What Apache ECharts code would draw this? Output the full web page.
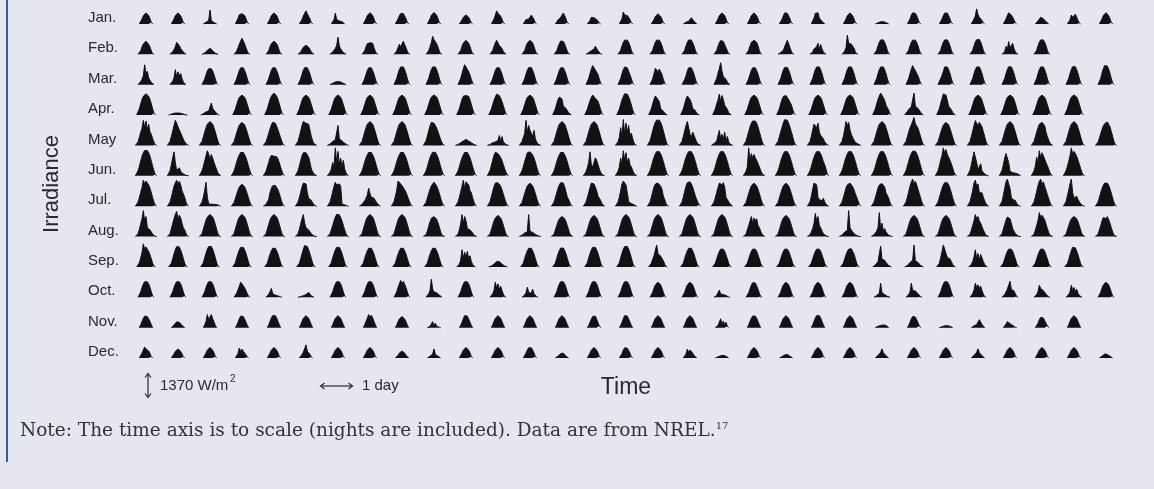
<!DOCTYPE html>
<html>
<head>
<meta charset="utf-8">
<script src="https://cdn.jsdelivr.net/npm/echarts@6.0.0/dist/echarts.min.js"></script>
<style>
html,body{margin:0;padding:0;background:#e6e6f1;}
#chart{width:1154px;height:489px;}
</style>
</head>
<body>
<div id="chart"></div>
<script>
// ---- data -------------------------------------------------------------
const months = ['Jan.','Feb.','Mar.','Apr.','May','Jun.','Jul.','Aug.','Sep.','Oct.','Nov.','Dec.'];
// hour of the first (zero) sample of each day, per month; samples are hourly
const startHour = [7,6,6,5,4,4,4,4,5,6,7,7];
const unitWm2 = 10;      // stored values are in units of 10 W/m2
const rowSpanWm2 = 1370; // scale bar: vertical distance between month rows

const jan = [
[0,6,22,37,46,50,47,38,24,7,0],[0,6,22,38,47,50,47,37,23,7,0],[0,3,8,12,15,63,14,10,6,2,0],[0,7,25,42,50,46,48,38,24,7,0],
[0,6,22,38,47,50,47,38,24,7,0],[0,6,20,36,48,59,46,34,22,6,0],[0,6,20,49,20,13,13,12,10,4,0],[0,6,23,38,47,51,48,38,23,7,0],
[0,6,22,37,47,50,47,38,24,7,0],[0,6,23,39,48,52,48,39,24,7,0],[0,5,18,30,26,41,37,30,18,5,0],[0,6,22,40,59,48,44,35,22,6,0],
[0,5,20,27,22,30,40,34,20,5,0],[0,5,18,27,30,35,49,38,22,6,0],[0,4,16,30,22,28,25,20,12,4,0],[0,6,24,54,40,42,38,30,20,6,0],
[0,5,20,34,43,46,43,34,21,6,0],[0,3,8,12,12,14,28,22,12,3,0],[0,6,22,38,47,50,47,38,23,7,0],[0,6,23,38,47,50,46,37,23,7,0],
[0,6,21,37,50,58,48,36,22,6,0],[0,6,26,48,54,50,26,20,12,4,0],[0,6,22,38,47,50,47,37,23,7,0],[0,2,5,8,10,14,10,8,6,2,0],
[0,6,22,40,50,55,48,38,22,6,0],[0,6,22,38,49,55,49,37,22,6,0],[0,5,22,36,68,42,30,24,16,5,0],[0,6,22,38,50,44,40,30,18,5,0],
[0,4,14,22,30,26,24,20,10,3,0],[0,5,18,40,30,26,44,30,16,4,0],[0,6,22,38,47,51,47,37,23,7,0]
];
const feb = [
[0,3,16,33,47,56,59,55,45,32,15,3,0],[0,3,12,22,34,54,59,40,26,18,10,2,0],[0,2,6,12,18,24,27,22,16,10,5,1,0],[0,3,14,30,46,60,72,60,46,30,14,3,0],
[0,3,16,34,48,56,59,56,48,34,16,3,0],[0,2,10,22,32,38,41,38,32,22,10,2,0],[0,2,10,18,26,40,77,38,24,16,8,2,0],[0,3,16,34,48,54,52,44,50,30,14,3,0],
[0,3,14,30,45,34,40,59,44,30,14,3,0],[0,3,16,34,52,81,66,60,48,32,14,3,0],[0,3,17,36,51,60,63,60,50,35,16,3,0],[0,3,17,36,52,63,58,40,36,26,12,3,0],
[0,3,17,36,51,60,63,60,51,35,16,3,0],[0,3,15,32,48,60,68,58,46,30,14,3,0],[0,2,8,12,16,20,24,36,28,16,8,2,0],[0,3,18,38,54,64,68,64,54,38,18,3,0],
[0,3,18,38,54,64,67,64,54,38,18,3,0],[0,3,18,38,54,65,68,64,53,37,18,3,0],[0,3,17,36,52,62,64,58,44,40,16,3,0],[0,3,18,38,54,62,63,62,54,38,17,3,0],
[0,2,8,14,18,20,50,63,48,30,14,3,0],[0,2,10,24,16,34,50,22,44,24,10,2,0],[0,3,14,30,86,50,48,46,40,28,12,2,0],[0,3,18,38,55,65,68,65,54,38,18,3,0],
[0,3,18,38,54,64,68,64,54,38,18,3,0],[0,3,18,39,55,65,69,65,55,38,18,3,0],[0,3,18,38,56,66,68,67,56,38,18,3,0],[0,2,12,36,20,58,28,24,50,26,10,2,0],
[0,3,18,38,55,65,69,65,55,39,18,3,0]
];
const mar = [
[0,4,14,24,40,90,50,60,30,22,10,3,0],[0,4,16,30,68,34,58,40,50,28,12,3,0],[0,7,25,45,62,72,77,72,62,45,25,7,0],[0,8,26,47,64,76,81,76,64,47,26,8,0],
[0,8,26,47,64,76,81,76,64,47,26,8,0],[0,8,26,47,65,77,82,76,64,47,26,8,0],[0,2,6,10,12,14,14,14,12,10,6,2,0],[0,8,26,47,64,76,81,76,64,47,26,8,0],
[0,8,28,50,68,80,86,80,68,50,28,8,0],[0,8,28,50,68,80,86,80,68,50,28,8,0],[0,8,28,50,72,90,80,70,58,44,24,7,0],[0,8,26,47,64,76,81,76,64,47,26,8,0],
[0,8,26,48,65,77,82,77,65,48,26,8,0],[0,8,26,47,64,76,81,76,64,47,26,8,0],[0,8,28,50,70,86,80,66,56,46,24,7,0],[0,8,28,50,68,80,86,76,60,52,28,8,0],
[0,7,26,50,74,66,58,70,64,46,24,7,0],[0,8,24,40,62,76,81,76,64,47,26,8,0],[0,8,28,52,72,99,60,36,32,24,12,4,0],[0,8,26,47,64,76,81,76,64,47,26,8,0],
[0,8,27,48,66,78,83,78,66,48,27,8,0],[0,8,28,50,68,80,86,80,68,50,28,8,0],[0,8,28,50,68,80,86,80,68,50,28,8,0],[0,8,28,50,68,80,86,80,68,50,28,8,0],
[0,8,28,50,70,86,74,64,50,40,22,6,0],[0,8,28,42,60,80,86,80,68,50,28,8,0],[0,8,28,50,68,80,86,80,68,50,28,8,0],[0,8,28,50,68,81,86,80,68,50,28,8,0],
[0,8,28,50,68,80,86,80,68,50,28,8,0],[0,8,28,50,69,81,87,81,68,50,28,8,0],[0,8,28,52,72,86,95,84,70,50,28,8,0]
];
const apr = [
[0,8,28,50,70,85,93,96,93,85,70,50,28,8,0],[0,2,4,6,8,9,9,9,9,8,6,4,2,1,0],[0,2,6,10,14,18,18,20,54,30,24,14,6,2,0],[0,8,26,47,66,80,88,90,88,80,66,47,26,8,0],
[0,8,28,50,70,85,93,99,90,85,70,50,28,8,0],[0,8,26,47,66,80,88,90,88,80,66,47,26,8,0],[0,8,26,47,66,80,88,91,88,80,66,47,26,8,0],[0,8,26,47,66,80,88,90,88,80,66,47,26,8,0],
[0,8,26,47,66,80,88,90,88,80,66,47,26,8,0],[0,8,27,48,67,81,89,91,89,81,67,48,27,8,0],[0,8,28,50,70,85,90,88,90,84,68,48,26,8,0],[0,8,26,46,66,82,94,96,88,76,60,42,22,6,0],
[0,8,26,47,66,80,88,90,88,80,66,47,26,8,0],[0,8,28,50,70,81,76,72,40,36,30,20,10,3,0],[0,8,26,46,64,80,90,95,76,78,62,44,24,7,0],[0,8,26,48,68,84,96,99,94,82,66,46,24,7,0],
[0,8,28,50,70,86,84,70,60,28,30,18,8,2,0],[0,8,28,50,72,86,80,70,56,30,26,20,8,2,0],[0,8,28,50,68,95,60,88,70,44,40,26,10,3,0],[0,8,26,47,66,80,88,90,88,80,66,47,26,8,0],
[0,8,28,50,70,84,90,88,80,70,58,46,26,8,0],[0,8,26,47,66,80,88,90,88,80,66,47,26,8,0],[0,8,27,48,67,81,89,91,89,81,67,48,27,8,0],[0,8,28,50,70,86,99,92,78,66,44,38,22,6,0],
[0,6,16,26,34,38,40,99,40,36,30,22,12,4,0],[0,8,28,52,74,95,94,90,86,40,34,24,12,3,0],[0,8,26,47,66,80,88,90,88,80,66,47,26,8,0],[0,8,26,47,66,80,88,90,88,82,70,52,30,8,0],
[0,8,26,47,66,80,88,90,88,80,66,47,26,8,0],[0,8,27,48,67,81,89,91,89,81,67,48,27,8,0]
];
const may = [
[0,3,16,36,58,78,113,80,110,70,96,60,50,30,14,3,0],[0,3,18,40,64,90,113,100,84,70,56,42,28,16,8,2,0],[0,3,18,38,60,80,96,105,108,105,96,80,60,38,18,3,0],
[0,3,17,36,57,76,92,100,104,100,92,76,57,36,17,3,0],[0,3,16,34,54,74,92,104,108,100,86,70,52,34,16,3,0],[0,3,18,40,64,90,108,104,100,98,96,94,40,20,8,2,0],
[0,2,6,12,18,22,26,30,90,30,24,20,16,10,6,2,0],[0,3,18,38,60,80,96,105,108,105,96,80,60,38,18,3,0],[0,3,18,38,60,80,96,105,108,105,96,80,60,38,18,3,0],
[0,3,20,42,66,88,104,108,100,90,78,62,44,26,12,2,0],[0,1,4,8,12,16,20,24,27,24,20,16,12,8,4,1,0],[0,1,4,8,12,14,16,20,22,45,18,40,16,10,4,1,0],
[0,3,18,36,54,113,60,90,68,70,40,68,30,16,6,1,0],[0,3,18,38,60,80,96,105,108,105,96,80,60,38,18,3,0],[0,3,18,38,60,80,96,105,108,105,96,80,60,38,18,3,0],
[0,3,16,36,80,40,117,50,100,60,90,40,56,30,12,2,0],[0,3,20,42,66,88,104,114,117,114,104,88,66,42,20,3,0],[0,3,18,40,66,90,108,80,50,36,60,46,30,16,6,1,0],
[0,2,8,14,20,24,68,30,50,26,60,20,40,16,6,1,0],[0,3,19,40,62,83,100,110,113,110,100,83,62,40,19,3,0],[0,3,18,38,60,82,102,116,122,114,100,82,62,40,18,3,0],
[0,3,18,40,70,96,104,80,100,60,45,40,30,16,8,2,0],[0,3,18,40,70,108,90,104,70,50,36,24,14,10,6,2,0],[0,3,18,38,60,80,96,105,108,105,96,80,60,38,18,3,0],
[0,3,18,38,60,80,92,99,126,98,90,78,58,38,18,3,0],[0,3,17,36,57,76,92,100,104,100,92,76,57,36,17,3,0],[0,3,18,40,64,90,112,100,90,104,110,84,62,40,18,3,0],
[0,3,18,38,60,80,96,105,108,105,96,80,60,38,18,3,0],[0,3,18,38,60,80,96,104,104,100,90,60,40,24,10,2,0],[0,3,18,38,60,80,96,105,108,105,96,80,60,38,18,3,0],
[0,2,14,32,52,72,88,98,104,106,98,84,62,40,18,3,0]
];
const jun = [
[0,6,22,42,66,88,104,114,117,114,104,88,66,42,22,6,0],[0,6,22,50,80,108,60,24,20,36,20,14,8,4,2,1,0],[0,6,22,42,66,90,113,100,70,96,80,60,44,28,12,3,0],
[0,6,21,40,62,81,95,105,108,105,95,81,62,40,21,6,0],[0,5,20,40,60,80,92,99,88,96,86,76,58,38,20,5,0],[0,6,22,44,68,90,104,108,104,96,84,60,30,18,8,2,0],
[0,4,16,30,60,40,126,60,110,50,80,40,70,30,14,3,0],[0,6,21,40,62,81,95,105,108,105,95,81,62,40,21,6,0],[0,6,21,40,62,81,95,105,108,105,95,81,62,40,21,6,0],
[0,6,21,40,62,82,96,106,109,106,96,82,62,40,21,6,0],[0,6,21,40,62,81,95,105,108,105,95,81,62,40,21,6,0],[0,6,24,46,70,92,106,108,100,92,82,68,50,32,16,4,0],
[0,6,22,42,64,84,104,96,108,100,94,80,62,40,20,5,0],[0,6,21,40,62,81,95,105,108,105,95,81,62,40,21,6,0],[0,4,18,36,60,108,50,40,60,81,70,50,30,16,6,1,0],
[0,5,20,40,80,50,113,70,104,60,80,50,40,24,10,2,0],[0,6,22,42,64,84,99,109,113,109,99,84,64,42,22,6,0],[0,6,22,42,64,84,99,109,113,109,99,84,64,42,22,6,0],
[0,6,22,42,64,84,99,109,113,109,99,84,64,42,22,6,0],[0,5,20,40,126,70,100,80,96,80,70,56,40,24,10,2,0],[0,6,22,42,64,84,99,109,113,109,99,84,64,42,22,6,0],
[0,6,22,42,64,84,99,109,113,109,99,84,64,50,30,8,0],[0,6,22,42,64,84,99,109,113,109,99,84,64,42,22,6,0],[0,6,22,42,64,84,99,109,113,109,99,84,64,42,22,6,0],
[0,6,22,43,65,86,101,111,115,111,101,86,65,43,22,6,0],[0,6,22,44,70,92,126,100,118,96,104,70,54,36,16,4,0],[0,6,24,50,80,108,117,60,28,24,54,22,14,8,4,1,0],
[0,6,24,50,80,100,108,60,20,14,14,13,12,10,8,4,0],[0,6,22,44,84,60,113,80,104,90,96,60,46,30,14,3,0],[0,6,22,42,64,90,126,96,110,100,88,70,52,32,14,3,0]
];
const jul = [
[0,4,18,38,62,84,117,100,113,106,96,80,60,38,18,4,0],[0,4,18,40,64,90,106,117,100,112,96,70,64,40,18,4,0],[0,4,18,40,70,108,40,10,10,9,9,8,8,7,6,3,0],
[0,3,16,34,54,72,87,96,99,96,87,72,54,34,16,3,0],[0,2,8,16,30,60,80,92,99,94,90,74,56,36,16,3,0],[0,4,18,38,62,86,104,113,100,60,36,40,26,14,6,1,0],
[0,4,18,40,64,90,108,96,104,100,90,10,8,6,4,1,0],[0,2,8,16,24,36,50,81,56,40,44,36,26,16,8,2,0],[0,4,20,44,70,113,106,100,92,84,74,62,46,30,14,3,0],
[0,4,17,36,57,76,91,100,108,100,91,76,57,36,17,4,0],[0,4,18,40,64,90,117,80,110,104,96,70,60,38,18,4,0],[0,4,20,42,66,88,104,108,106,100,90,74,54,34,16,3,0],
[0,4,17,36,57,76,91,100,104,100,91,76,57,36,17,4,0],[0,4,18,38,60,80,96,106,108,104,88,96,40,30,14,3,0],[0,4,18,38,60,84,104,113,100,86,70,45,46,26,10,2,0],
[0,4,18,40,70,100,113,104,96,88,20,14,12,10,6,2,0],[0,4,18,40,64,86,100,104,104,100,90,76,45,30,12,2,0],[0,4,18,40,66,90,106,113,110,100,86,66,46,30,16,6,0],
[0,4,18,38,62,84,104,113,96,106,86,40,30,20,10,2,0],[0,4,17,36,57,76,91,100,104,100,91,76,57,36,17,4,0],[0,4,17,36,57,76,91,100,104,100,91,76,57,36,17,4,0],
[0,4,20,44,76,104,113,96,40,30,32,24,36,20,8,2,0],[0,4,18,38,60,82,96,104,104,98,88,74,56,40,24,8,0],[0,4,18,38,60,82,96,104,102,96,86,60,56,36,16,3,0],
[0,4,18,40,64,90,110,122,100,112,96,76,56,36,16,3,0],[0,4,18,38,60,80,96,106,112,106,96,80,60,38,18,4,0],[0,4,20,44,70,104,117,90,100,60,58,60,40,24,10,2,0],
[0,4,20,48,80,110,122,100,80,40,30,36,26,12,4,1,0],[0,4,18,40,66,92,112,122,96,110,90,72,52,34,16,3,0],[0,4,20,44,72,100,122,60,36,40,45,30,20,10,4,1,0],
[0,4,18,38,60,80,94,104,96,104,94,78,58,36,16,3,0]
];
const aug = [
[0,1,12,32,56,80,117,70,90,40,36,30,20,10,4,1,0],[0,1,12,34,58,80,100,113,80,96,84,60,40,30,14,2,0],[0,1,12,32,54,74,88,96,99,96,88,74,54,32,12,1,0],
[0,1,12,32,54,74,88,96,99,96,88,74,54,32,12,1,0],[0,1,12,32,54,74,88,96,99,96,88,74,54,32,12,1,0],[0,1,12,32,56,80,99,60,40,36,30,24,12,6,2,1,0],
[0,1,12,30,50,70,88,100,104,98,86,70,50,30,12,1,0],[0,1,12,32,54,74,88,96,99,96,88,74,54,32,12,1,0],[0,1,12,32,54,74,88,96,99,96,88,74,54,32,12,1,0],
[0,1,8,24,46,66,82,88,90,86,78,62,42,20,6,1,0],[0,1,10,30,56,99,60,90,70,36,34,30,28,16,6,1,0],[0,1,11,30,51,70,84,92,95,92,84,70,51,30,11,1,0],
[0,1,6,12,16,20,22,99,24,20,18,14,10,6,3,1,0],[0,1,10,29,49,67,80,88,90,88,80,67,49,29,10,1,0],[0,1,11,30,51,70,84,92,95,92,84,70,51,30,11,1,0],
[0,1,12,32,54,74,88,96,99,96,88,74,54,32,12,1,0],[0,1,12,32,54,74,88,96,99,96,88,74,54,32,12,1,0],[0,1,12,32,54,74,88,96,99,96,88,74,54,32,12,1,0],
[0,1,12,32,54,74,88,96,99,96,88,74,54,32,12,1,0],[0,1,10,30,50,70,90,60,84,70,80,50,40,24,10,1,0],[0,1,11,30,51,70,84,92,95,92,84,70,51,30,11,1,0],
[0,1,8,20,36,60,104,70,90,50,40,24,14,8,3,1,0],[0,1,6,14,20,24,28,117,40,30,20,12,8,4,2,1,0],[0,1,8,16,24,40,108,30,60,24,36,20,12,6,2,1,0],
[0,1,11,30,51,70,84,92,95,92,84,70,51,30,11,1,0],[0,1,11,30,51,70,84,92,95,92,84,70,51,30,11,1,0],[0,1,10,28,50,70,99,80,90,70,60,44,30,16,6,1,0],
[0,1,12,32,54,74,88,90,80,60,36,24,14,6,2,1,0],[0,1,10,28,50,72,108,86,96,90,76,56,36,18,6,1,0],[0,1,10,29,49,67,80,88,90,88,80,67,49,29,10,1,0],
[0,1,10,28,48,70,86,95,80,90,76,60,40,20,6,1,0]
];
const sep = [
[0,3,18,40,64,104,80,90,84,70,54,36,16,3,0],[0,3,16,36,58,78,92,99,90,76,58,38,16,3,0],[0,3,18,41,62,80,92,99,92,80,62,41,18,3,0],
[0,3,18,40,60,77,88,94,88,77,60,40,18,3,0],[0,3,17,38,57,73,84,90,84,73,57,38,17,3,0],[0,3,16,36,58,80,96,104,92,76,58,38,16,3,0],
[0,3,18,40,60,77,88,94,88,77,60,40,18,3,0],[0,3,17,38,57,73,84,90,84,73,57,38,17,3,0],[0,3,17,38,57,73,84,90,84,73,57,38,17,3,0],
[0,3,17,38,57,73,84,90,84,73,57,38,17,3,0],[0,2,12,30,77,40,66,44,70,36,50,24,10,2,0],[0,1,4,8,12,18,24,27,24,18,12,8,4,1,0],
[0,3,17,38,57,73,84,90,84,73,57,38,17,3,0],[0,3,17,38,58,74,85,91,85,74,58,38,17,3,0],[0,3,18,40,60,77,88,94,88,77,60,40,18,3,0],
[0,3,18,41,62,80,92,99,92,80,62,41,18,3,0],[0,3,16,34,50,56,99,60,54,48,40,28,12,2,0],[0,3,17,38,57,73,84,90,84,73,57,38,17,3,0],
[0,3,16,36,54,70,80,86,80,70,54,36,16,3,0],[0,3,16,36,54,70,80,86,80,70,54,36,16,3,0],[0,3,16,36,54,70,80,86,80,70,54,36,16,3,0],
[0,3,16,36,54,70,80,86,80,70,54,36,16,3,0],[0,3,16,36,54,70,80,86,82,74,58,38,16,3,0],[0,2,8,16,24,30,94,34,40,30,20,12,6,1,0],
[0,2,6,12,20,26,30,99,28,24,20,14,6,1,0],[0,3,16,40,70,99,80,60,42,40,36,24,10,2,0],[0,2,10,24,44,77,36,60,30,56,40,24,10,2,0],
[0,3,16,36,54,70,80,86,80,70,54,36,16,3,0],[0,3,16,36,54,70,80,86,80,70,54,36,16,3,0],[0,3,14,32,54,74,88,94,86,72,54,34,14,2,0]
];
const oct = [
[0,6,24,44,60,70,74,70,60,44,24,6,0],[0,6,24,44,60,70,74,70,60,44,24,6,0],[0,6,24,44,60,70,74,70,60,44,24,6,0],[0,5,18,34,50,68,60,52,42,30,16,4,0],
[0,4,14,24,40,16,12,10,8,6,4,2,0],[0,1,3,5,7,9,12,16,22,14,6,2,0],[0,6,24,44,60,70,74,70,60,44,24,6,0],[0,6,24,44,60,70,74,70,60,44,24,6,0],
[0,6,24,44,60,76,60,72,58,44,24,6,0],[0,4,16,30,81,36,24,22,20,16,10,3,0],[0,6,24,44,60,70,74,70,60,44,24,6,0],[0,4,16,30,68,40,60,36,50,30,14,3,0],
[0,3,10,20,45,22,30,18,36,16,8,2,0],[0,6,24,44,60,70,74,70,60,44,24,6,0],[0,6,24,44,60,70,74,70,60,44,24,6,0],[0,6,24,44,60,70,74,70,60,44,24,6,0],
[0,5,22,41,56,65,68,65,56,41,22,5,0],[0,5,22,41,56,65,68,65,56,41,22,5,0],[0,2,8,16,32,14,22,12,10,8,5,1,0],[0,5,20,38,54,66,72,64,52,36,18,4,0],
[0,5,22,41,56,65,68,65,56,41,22,5,0],[0,5,22,41,56,65,68,65,56,41,22,5,0],[0,5,22,41,56,65,68,65,56,41,22,5,0],[0,2,8,14,18,63,20,16,12,8,4,1,0],
[0,3,12,24,63,30,26,28,24,16,8,2,0],[0,6,24,44,60,70,74,70,60,44,24,6,0],[0,4,16,32,63,44,56,40,50,30,14,3,0],[0,3,12,24,36,40,72,36,34,28,16,3,0],
[0,3,12,26,54,40,36,30,24,14,6,1,0],[0,3,12,24,54,30,44,26,36,18,8,2,0],[0,5,22,41,56,65,68,65,56,41,22,5,0]
];
const nov = [
[0,13,28,42,52,56,50,42,28,12,0],[0,6,12,18,26,32,24,16,10,4,0],[0,12,28,59,36,40,59,40,26,10,0],[0,10,24,40,52,59,50,38,24,10,0],
[0,12,28,44,54,59,54,44,28,12,0],[0,12,28,42,51,54,51,42,28,12,0],[0,12,28,42,51,54,51,42,28,12,0],[0,12,28,42,59,46,56,44,28,12,0],
[0,11,26,39,47,50,47,39,26,11,0],[0,3,6,10,27,8,20,6,4,2,0],[0,10,24,40,54,63,52,38,24,10,0],[0,12,28,42,51,54,51,42,28,12,0],
[0,12,28,42,51,54,51,42,28,12,0],[0,12,28,42,51,54,51,42,28,12,0],[0,10,24,38,50,59,52,38,22,8,0],[0,10,24,40,54,63,52,38,24,10,0],
[0,12,28,42,51,54,51,42,28,12,0],[0,12,28,42,51,54,51,42,28,12,0],[0,4,10,16,40,14,30,12,24,6,0],[0,12,28,42,52,56,52,42,28,12,0],
[0,12,28,42,51,54,51,42,28,12,0],[0,12,28,44,54,58,54,44,28,12,0],[0,12,28,42,51,54,51,42,28,12,0],[0,3,6,8,10,12,12,12,10,6,0],
[0,10,24,40,50,54,48,36,22,8,0],[0,2,4,6,8,9,9,8,6,3,0],[0,3,8,12,14,20,36,28,14,5,0],[0,6,16,27,22,18,14,10,6,2,0],
[0,8,20,36,46,50,44,32,20,8,0],[0,12,28,42,51,54,51,42,28,12,0]
];
const dec = [
[0,8,22,36,50,40,40,32,20,6,0],[0,6,18,30,38,41,38,30,18,6,0],[0,8,22,36,44,47,44,36,22,7,0],[0,6,20,45,28,40,30,24,14,4,0],
[0,8,22,36,44,47,44,36,22,7,0],[0,5,16,26,34,59,30,26,16,5,0],[0,8,22,36,44,47,44,36,22,7,0],[0,8,22,36,44,47,44,36,22,7,0],
[0,4,12,22,28,32,28,22,12,4,0],[0,3,8,14,18,41,16,12,8,3,0],[0,8,22,36,44,47,44,36,22,7,0],[0,8,22,36,44,47,44,36,22,7,0],
[0,8,22,36,46,50,46,36,22,7,0],[0,3,8,14,20,27,22,14,8,3,0],[0,8,22,36,44,47,44,36,22,7,0],[0,7,20,36,46,52,44,34,20,6,0],
[0,8,22,36,44,47,44,36,22,7,0],[0,6,18,40,26,36,28,22,12,4,0],[0,2,5,8,10,12,12,10,8,4,0],[0,8,22,36,44,47,44,36,22,7,0],
[0,2,6,10,14,18,16,12,8,3,0],[0,8,22,36,44,47,44,36,22,7,0],[0,8,22,36,44,47,44,36,22,7,0],[0,4,12,20,26,41,24,18,10,3,0],
[0,8,22,36,44,47,44,36,22,7,0],[0,8,22,36,44,47,44,36,22,7,0],[0,4,12,20,26,41,24,18,10,3,0],[0,8,22,36,44,47,44,36,22,7,0],
[0,8,22,36,44,47,44,36,22,7,0],[0,8,22,36,44,47,44,36,22,7,0],[0,3,8,14,18,20,16,12,8,3,0]
];
const monthData = [jan,feb,mar,apr,may,jun,jul,aug,sep,oct,nov,dec];

// ---- chart ------------------------------------------------------------
const INK = '#121212';
const TXT = '#2a2a2a';
const yMax = 15970;

const series = monthData.map((days, m) => {
  const base = (11 - m) * rowSpanWm2;
  const pts = [];
  days.forEach((vals, d) => {
    vals.forEach((v, h) => {
      pts.push([d + (startHour[m] + h) / 24, base + v * unitWm2]);
    });
    pts.push([d + 0.99, '-']); // night: break the path
  });
  return {
    type: 'line', name: months[m], data: pts, showSymbol: false, symbol: 'none',
    silent: true, animation: false, smooth: false, connectNulls: false,
    lineStyle: { width: 1, color: INK },
    itemStyle: { color: INK },
    areaStyle: { color: INK, opacity: 1, origin: base }
  };
});

const chart = echarts.init(document.getElementById('chart'), null, { renderer: 'canvas' });
chart.setOption({
  backgroundColor: '#e6e6f1',
  animation: false,
  grid: { left: 130, right: 32, top: 4, bottom: 131, containLabel: false },
  xAxis: { type: 'value', min: 0, max: 31, show: false },
  yAxis: {
    type: 'value', min: 0, max: yMax, interval: rowSpanWm2,
    axisLine: { show: false }, axisTick: { show: false }, splitLine: { show: false },
    axisLabel: {
      show: true, align: 'left', margin: 42, verticalAlign: 'bottom', lineHeight: 12,
      fontFamily: 'Liberation Sans, Arial, sans-serif', fontSize: 15, color: TXT,
      formatter: function (v) {
        const k = Math.round(v / rowSpanWm2);
        if (Math.abs(v - k * rowSpanWm2) > 1 || k < 0 || k > 11) return '';
        return months[11 - k];
      }
    }
  },
  series: series,
  graphic: [
    { type: 'rect', left: 6, top: 0, shape: { width: 2, height: 462 }, style: { fill: '#2f5ea8' } },
    { type: 'text', x: 52, y: 184, rotation: Math.PI / 2,
      style: { text: 'Irradiance', align: 'center', verticalAlign: 'middle', fill: TXT,
               font: '22px "Liberation Sans", Arial, sans-serif' } },
    // vertical scale arrow (1370 W/m2)
    { type: 'polyline', shape: { points: [[148, 374], [148, 397]] }, style: { stroke: TXT, lineWidth: 1.2, fill: null } },
    { type: 'polyline', shape: { points: [[145, 377.5], [148, 373.5], [151, 377.5]] }, style: { stroke: TXT, lineWidth: 1.2, fill: null } },
    { type: 'polyline', shape: { points: [[145, 393.5], [148, 397.5], [151, 393.5]] }, style: { stroke: TXT, lineWidth: 1.2, fill: null } },
    { type: 'text', x: 160, y: 386, style: { text: '1370 W/m', align: 'left', verticalAlign: 'middle', fill: TXT,
      font: '15px "Liberation Sans", Arial, sans-serif' } },
    { type: 'text', x: 230, y: 379, style: { text: '2', align: 'left', verticalAlign: 'middle', fill: TXT,
      font: '10px "Liberation Sans", Arial, sans-serif' } },
    // horizontal scale arrow (1 day)
    { type: 'polyline', shape: { points: [[321, 386], [352, 386]] }, style: { stroke: TXT, lineWidth: 1.2, fill: null } },
    { type: 'polyline', shape: { points: [[324.5, 383], [320.5, 386], [324.5, 389]] }, style: { stroke: TXT, lineWidth: 1.2, fill: null } },
    { type: 'polyline', shape: { points: [[348.5, 383], [352.5, 386], [348.5, 389]] }, style: { stroke: TXT, lineWidth: 1.2, fill: null } },
    { type: 'text', x: 362, y: 386, style: { text: '1 day', align: 'left', verticalAlign: 'middle', fill: TXT,
      font: '15px "Liberation Sans", Arial, sans-serif' } },
    { type: 'text', x: 626, y: 388, style: { text: 'Time', align: 'center', verticalAlign: 'middle', fill: TXT,
      font: '23px "Liberation Sans", Arial, sans-serif' } },
    { type: 'text', x: 20, y: 431, style: {
      text: '{n|Note: The time axis is to scale (nights are included). Data are from NREL.}{s|17}',
      align: 'left', verticalAlign: 'middle',
      rich: {
        n: { fontFamily: '"DejaVu Serif", serif', fontSize: 18.5, fill: '#333333', color: '#333333' },
        s: { fontFamily: '"DejaVu Serif", serif', fontSize: 10, verticalAlign: 'top', fill: '#333333', color: '#333333', padding: [0, 0, 9, 0] }
      }
    } }
  ]
});
</script>
</body>
</html>
